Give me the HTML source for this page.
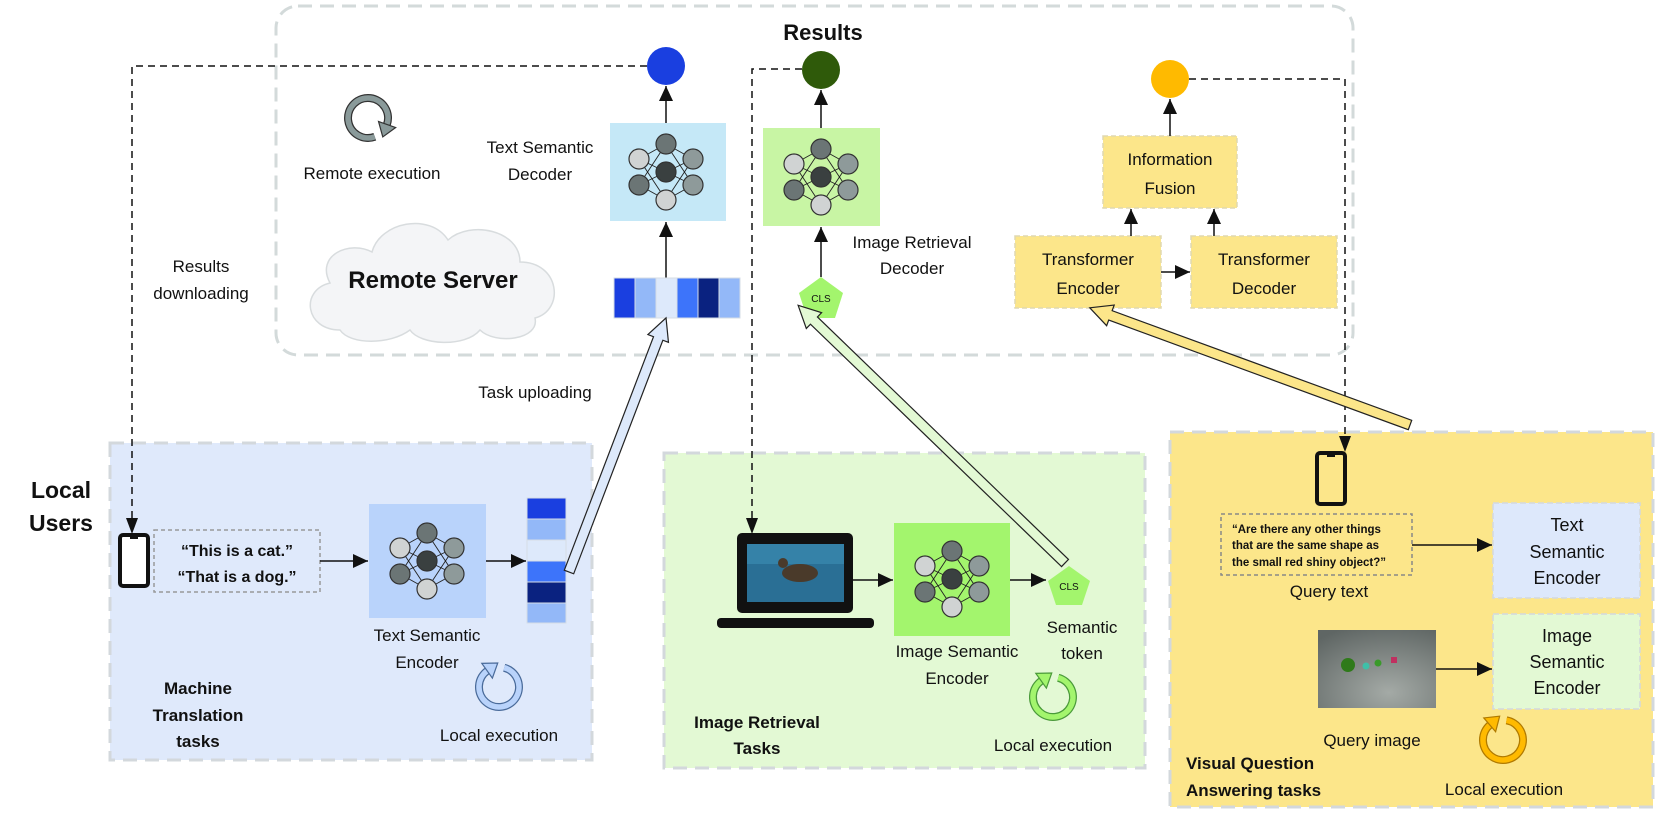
<!DOCTYPE html>
<html><head><meta charset="utf-8"><style>
html,body{margin:0;padding:0;background:#fff}
svg{display:block}
text{font-family:"Liberation Sans",sans-serif;fill:#111}
.b{font-weight:bold}
</style></head><body>
<svg width="1662" height="819" viewBox="0 0 1662 819" xmlns="http://www.w3.org/2000/svg">
<defs>
<marker id="ah" markerUnits="userSpaceOnUse" markerWidth="16" markerHeight="16" refX="15" refY="7" orient="auto">
<path d="M0,0 L15,7 L0,14 Z" fill="#111"/></marker>
<symbol id="nn" viewBox="-40 -40 80 80" overflow="visible">
<g stroke="#222" stroke-width="0.9">
<line x1="-27" y1="-13" x2="0" y2="-28"/><line x1="-27" y1="-13" x2="0" y2="0"/><line x1="-27" y1="-13" x2="0" y2="28"/>
<line x1="-27" y1="13" x2="0" y2="-28"/><line x1="-27" y1="13" x2="0" y2="0"/><line x1="-27" y1="13" x2="0" y2="28"/>
<line x1="27" y1="-13" x2="0" y2="-28"/><line x1="27" y1="-13" x2="0" y2="0"/><line x1="27" y1="-13" x2="0" y2="28"/>
<line x1="27" y1="13" x2="0" y2="-28"/><line x1="27" y1="13" x2="0" y2="0"/><line x1="27" y1="13" x2="0" y2="28"/>
</g>
<g stroke="#333" stroke-width="1.2">
<circle cx="-27" cy="-13" r="10" fill="#d0d3d3"/><circle cx="-27" cy="13" r="10" fill="#6b7575"/>
<circle cx="0" cy="-28" r="10" fill="#6b7575"/><circle cx="0" cy="0" r="10" fill="#3a4040"/><circle cx="0" cy="28" r="10" fill="#d0d3d3"/>
<circle cx="27" cy="-13" r="10" fill="#8e9a9a"/><circle cx="27" cy="13" r="10" fill="#8e9a9a"/>
</g></symbol>
</defs>

<!-- Remote server region -->
<rect x="276" y="6" width="1077" height="349" rx="22" fill="none" stroke="#d3dada" stroke-width="3" stroke-dasharray="14 8"/>
<text x="823" y="40" font-size="22" class="b" text-anchor="middle">Results</text>

<!-- cloud -->
<path d="M340,330 C305,330 300,290 330,283 C315,255 350,240 372,252 C380,222 430,212 448,240 C470,220 520,230 520,262 C560,262 565,310 535,318 C540,340 495,345 480,330 C465,348 420,345 410,330 C390,345 350,345 340,330 Z" fill="#f4f5f7" stroke="#d8dcde" stroke-width="1.5"/>
<text x="433" y="288" font-size="24" class="b" text-anchor="middle">Remote Server</text>

<!-- remote refresh icon -->
<g transform="translate(368,118) rotate(130)">
<path d="M10,-17.3 A20 20 0 1 1 -6.84,-18.8" fill="none" stroke="#333" stroke-width="8"/>
<path d="M10,-17.3 A20 20 0 1 1 -6.84,-18.8" fill="none" stroke="#8a9a9a" stroke-width="5.5"/>
<path d="M-4.1,-10.3 L5,-23.5 L-10.5,-27.3 Z" fill="#8a9a9a" stroke="#333" stroke-width="1.2"/>
</g>
<text x="372" y="179" font-size="17" text-anchor="middle">Remote execution</text>
<text x="540" y="153" font-size="17" text-anchor="middle">Text Semantic</text>
<text x="540" y="180" font-size="17" text-anchor="middle">Decoder</text>

<!-- text semantic decoder -->
<rect x="610" y="123" width="116" height="98" fill="#c5e8f7"/>
<use href="#nn" x="626" y="132" width="80" height="80"/>
<circle cx="666" cy="66" r="19" fill="#1a3fe0"/>
<line x1="666" y1="123" x2="666" y2="86" stroke="#111" stroke-width="1.5" marker-end="url(#ah)"/>
<line x1="666" y1="278" x2="666" y2="222" stroke="#111" stroke-width="1.5" marker-end="url(#ah)"/>
<g stroke="#d6dde6" stroke-width="1">
<rect x="614" y="278" width="21" height="40" fill="#1a3fe0"/>
<rect x="635" y="278" width="21" height="40" fill="#93b8f8"/>
<rect x="656" y="278" width="21" height="40" fill="#dde9fb"/>
<rect x="677" y="278" width="21" height="40" fill="#3d74fa"/>
<rect x="698" y="278" width="21" height="40" fill="#0a2280"/>
<rect x="719" y="278" width="21" height="40" fill="#93b8f8"/>
</g>

<!-- image retrieval decoder -->
<rect x="763" y="128" width="117" height="98" fill="#c8f5a4"/>
<use href="#nn" x="781" y="137" width="80" height="80"/>
<circle cx="821" cy="70" r="19" fill="#2f5a0a"/>
<line x1="821" y1="128" x2="821" y2="90" stroke="#111" stroke-width="1.5" marker-end="url(#ah)"/>
<line x1="821" y1="277" x2="821" y2="227" stroke="#111" stroke-width="1.5" marker-end="url(#ah)"/>
<polygon points="821,277 843,293 835,318 807,318 799,293" fill="#a3f56d"/>
<text x="821" y="302" font-size="10" text-anchor="middle">CLS</text>
<text x="912" y="248" font-size="17" text-anchor="middle">Image Retrieval</text>
<text x="912" y="274" font-size="17" text-anchor="middle">Decoder</text>

<!-- VQA server side -->
<circle cx="1170" cy="79" r="19" fill="#ffba00"/>
<g stroke="#e0d8b0" stroke-width="1.5" stroke-dasharray="5 3" fill="#fce68a">
<rect x="1103" y="136" width="134" height="72"/>
<rect x="1015" y="236" width="146" height="72"/>
<rect x="1191" y="236" width="146" height="72"/>
</g>
<text x="1170" y="165" font-size="17" text-anchor="middle">Information</text>
<text x="1170" y="194" font-size="17" text-anchor="middle">Fusion</text>
<text x="1088" y="265" font-size="17" text-anchor="middle">Transformer</text>
<text x="1088" y="294" font-size="17" text-anchor="middle">Encoder</text>
<text x="1264" y="265" font-size="17" text-anchor="middle">Transformer</text>
<text x="1264" y="294" font-size="17" text-anchor="middle">Decoder</text>
<line x1="1170" y1="136" x2="1170" y2="99" stroke="#111" stroke-width="1.5" marker-end="url(#ah)"/>
<line x1="1131" y1="236" x2="1131" y2="209" stroke="#111" stroke-width="1.5" marker-end="url(#ah)"/>
<line x1="1214" y1="236" x2="1214" y2="209" stroke="#111" stroke-width="1.5" marker-end="url(#ah)"/>
<line x1="1161" y1="272" x2="1190" y2="272" stroke="#111" stroke-width="1.5" marker-end="url(#ah)"/>

<!-- side labels -->
<text x="201" y="272" font-size="17" text-anchor="middle">Results</text>
<text x="201" y="299" font-size="17" text-anchor="middle">downloading</text>
<text x="535" y="398" font-size="17" text-anchor="middle">Task uploading</text>

<!-- Machine translation box -->
<rect x="110" y="443" width="482" height="317" fill="#dfe9fb" stroke="#d3d8dc" stroke-width="3" stroke-dasharray="14 8"/>
<text x="61" y="498" font-size="23" class="b" text-anchor="middle">Local</text>
<text x="61" y="531" font-size="23" class="b" text-anchor="middle">Users</text>
<rect x="120" y="535" width="28" height="51" rx="3" fill="#fff" stroke="#111" stroke-width="4"/>
<rect x="130" y="537" width="8" height="2" fill="#111"/>
<rect x="154" y="530" width="166" height="62" fill="none" stroke="#999" stroke-width="1.5" stroke-dasharray="4 3"/>
<text x="237" y="556" font-size="16" class="b" text-anchor="middle">“This is a cat.”</text>
<text x="237" y="582" font-size="16" class="b" text-anchor="middle">“That is a dog.”</text>
<line x1="320" y1="561" x2="368" y2="561" stroke="#111" stroke-width="1.5" marker-end="url(#ah)"/>
<rect x="369" y="504" width="117" height="114" fill="#b9d3fb"/>
<use href="#nn" x="387" y="521" width="80" height="80"/>
<line x1="486" y1="561" x2="526" y2="561" stroke="#111" stroke-width="1.5" marker-end="url(#ah)"/>
<g stroke="#d6dde6" stroke-width="1">
<rect x="527" y="498" width="39" height="21" fill="#1a3fe0"/>
<rect x="527" y="519" width="39" height="21" fill="#93b8f8"/>
<rect x="527" y="540" width="39" height="21" fill="#dde9fb"/>
<rect x="527" y="561" width="39" height="21" fill="#3d74fa"/>
<rect x="527" y="582" width="39" height="21" fill="#0a2280"/>
<rect x="527" y="603" width="39" height="20" fill="#93b8f8"/>
</g>
<text x="427" y="641" font-size="17" text-anchor="middle">Text Semantic</text>
<text x="427" y="668" font-size="17" text-anchor="middle">Encoder</text>
<g transform="translate(499,687) rotate(-15)">
<path d="M10,-17.3 A20 20 0 1 1 -6.84,-18.8" fill="none" stroke="#4a6b9a" stroke-width="8"/>
<path d="M10,-17.3 A20 20 0 1 1 -6.84,-18.8" fill="none" stroke="#b9d3fb" stroke-width="5.5"/>
<path d="M-4.1,-10.3 L5,-23.5 L-10.5,-27.3 Z" fill="#b9d3fb" stroke="#4a6b9a" stroke-width="1.2"/>
</g>
<text x="499" y="741" font-size="17" text-anchor="middle">Local execution</text>
<text x="198" y="694" font-size="17" class="b" text-anchor="middle">Machine</text>
<text x="198" y="721" font-size="17" class="b" text-anchor="middle">Translation</text>
<text x="198" y="747" font-size="17" class="b" text-anchor="middle">tasks</text>

<!-- Image retrieval box -->
<rect x="664" y="453" width="481" height="315" fill="#e3f9d4" stroke="#d3d8dc" stroke-width="3" stroke-dasharray="14 8"/>
<rect x="737" y="533" width="116" height="80" rx="5" fill="#111"/>
<rect x="747" y="544" width="97" height="58" fill="#2a6f95"/>
<rect x="747" y="544" width="97" height="20" fill="#3d8fb5" opacity="0.6"/>
<ellipse cx="800" cy="573" rx="18" ry="9" fill="#4a3a2a"/>
<circle cx="783" cy="563" r="5" fill="#4a3a2a"/>
<rect x="717" y="618" width="157" height="10" rx="4" fill="#111"/>
<line x1="853" y1="580" x2="893" y2="580" stroke="#111" stroke-width="1.5" marker-end="url(#ah)"/>
<rect x="894" y="523" width="116" height="113" fill="#a3f56d"/>
<use href="#nn" x="912" y="539" width="80" height="80"/>
<line x1="1010" y1="580" x2="1046" y2="580" stroke="#111" stroke-width="1.5" marker-end="url(#ah)"/>
<polygon points="1069,566 1090,581 1082,605 1056,605 1048,581" fill="#a3f56d"/>
<text x="1069" y="590" font-size="10" text-anchor="middle">CLS</text>
<text x="957" y="657" font-size="17" text-anchor="middle">Image Semantic</text>
<text x="957" y="684" font-size="17" text-anchor="middle">Encoder</text>
<text x="1082" y="633" font-size="17" text-anchor="middle">Semantic</text>
<text x="1082" y="659" font-size="17" text-anchor="middle">token</text>
<g transform="translate(1053,697) rotate(-15)">
<path d="M10,-17.3 A20 20 0 1 1 -6.84,-18.8" fill="none" stroke="#4a9a3a" stroke-width="8"/>
<path d="M10,-17.3 A20 20 0 1 1 -6.84,-18.8" fill="none" stroke="#a3f56d" stroke-width="5.5"/>
<path d="M-4.1,-10.3 L5,-23.5 L-10.5,-27.3 Z" fill="#a3f56d" stroke="#4a9a3a" stroke-width="1.2"/>
</g>
<text x="1053" y="751" font-size="17" text-anchor="middle">Local execution</text>
<text x="757" y="728" font-size="17" class="b" text-anchor="middle">Image Retrieval</text>
<text x="757" y="754" font-size="17" class="b" text-anchor="middle">Tasks</text>

<!-- VQA box -->
<rect x="1170" y="432" width="483" height="375" fill="#fce68a" stroke="#d3d8dc" stroke-width="3" stroke-dasharray="14 8"/>
<rect x="1317" y="453" width="28" height="51" rx="3" fill="#fce68a" stroke="#111" stroke-width="4"/>
<rect x="1327" y="455" width="8" height="2" fill="#111"/>
<rect x="1221" y="514" width="191" height="61" fill="none" stroke="#888" stroke-width="1.5" stroke-dasharray="4 3"/>
<text x="1232" y="533" font-size="11.5" class="b">“Are there any other things</text>
<text x="1232" y="549" font-size="11.5" class="b">that are the same shape as</text>
<text x="1232" y="566" font-size="11.5" class="b">the small red shiny object?”</text>
<text x="1329" y="597" font-size="17" text-anchor="middle">Query text</text>
<line x1="1412" y1="545" x2="1492" y2="545" stroke="#111" stroke-width="1.5" marker-end="url(#ah)"/>
<rect x="1493" y="503" width="147" height="95" fill="#dde8fb" stroke="#d3d8dc" stroke-width="1.5" stroke-dasharray="6 3"/>
<text x="1567" y="531" font-size="18" text-anchor="middle">Text</text>
<text x="1567" y="558" font-size="18" text-anchor="middle">Semantic</text>
<text x="1567" y="584" font-size="18" text-anchor="middle">Encoder</text>
<defs><radialGradient id="qg" cx="0.6" cy="0.8" r="0.9"><stop offset="0" stop-color="#a4aaa6"/><stop offset="1" stop-color="#5f6664"/></radialGradient></defs>
<rect x="1318" y="630" width="118" height="78" fill="url(#qg)"/>
<circle cx="1348" cy="665" r="7" fill="#2f7a1a"/>
<circle cx="1366" cy="666" r="3.5" fill="#3fc0a8"/>
<circle cx="1378" cy="663" r="3.5" fill="#3a9a2a"/>
<rect x="1391" y="657" width="6" height="6" fill="#c03060"/>
<line x1="1436" y1="669" x2="1492" y2="669" stroke="#111" stroke-width="1.5" marker-end="url(#ah)"/>
<rect x="1493" y="614" width="147" height="95" fill="#e3f9d4" stroke="#d3d8dc" stroke-width="1.5" stroke-dasharray="6 3"/>
<text x="1567" y="642" font-size="18" text-anchor="middle">Image</text>
<text x="1567" y="668" font-size="18" text-anchor="middle">Semantic</text>
<text x="1567" y="694" font-size="18" text-anchor="middle">Encoder</text>
<text x="1372" y="746" font-size="17" text-anchor="middle">Query image</text>
<g transform="translate(1503,740) rotate(-20)">
<path d="M10,-17.3 A20 20 0 1 1 -6.84,-18.8" fill="none" stroke="#b07a00" stroke-width="8"/>
<path d="M10,-17.3 A20 20 0 1 1 -6.84,-18.8" fill="none" stroke="#ffba00" stroke-width="5.5"/>
<path d="M-4.1,-10.3 L5,-23.5 L-10.5,-27.3 Z" fill="#ffba00" stroke="#b07a00" stroke-width="1.2"/>
</g>
<text x="1504" y="795" font-size="17" text-anchor="middle">Local execution</text>
<text x="1186" y="769" font-size="17" class="b">Visual Question</text>
<text x="1186" y="796" font-size="17" class="b">Answering tasks</text>

<!-- dashed result downloads -->
<g fill="none" stroke="#111" stroke-width="1.5" stroke-dasharray="7 5">
<path d="M647,66 H132 V518"/>
<path d="M802,69 H752 V518"/>
<path d="M1189,79 H1345 V436"/>
</g>
<polygon points="126,518 138,518 132,534" fill="#111"/>
<polygon points="746,518 758,518 752,534" fill="#111"/>
<polygon points="1339,436 1351,436 1345,452" fill="#111"/>

<!-- hollow upload arrows -->
<g stroke="#222" stroke-width="1.2" stroke-linejoin="miter">
<g transform="translate(569,572) rotate(-69.1)"><polygon points="0,-5 250,-5 250,-11 272,0 250,11 250,5 0,5" fill="#dde9fb"/></g>
<g transform="translate(1065,563) rotate(-136)"><polygon points="0,-5 349,-5 349,-11 371,0 349,11 349,5 0,5" fill="#e3f9d4"/></g>
<g transform="translate(1410,425) rotate(-159.9)"><polygon points="0,-5 319,-5 319,-11 341,0 319,11 319,5 0,5" fill="#fce68a"/></g>
</g>
</svg>
</body></html>
